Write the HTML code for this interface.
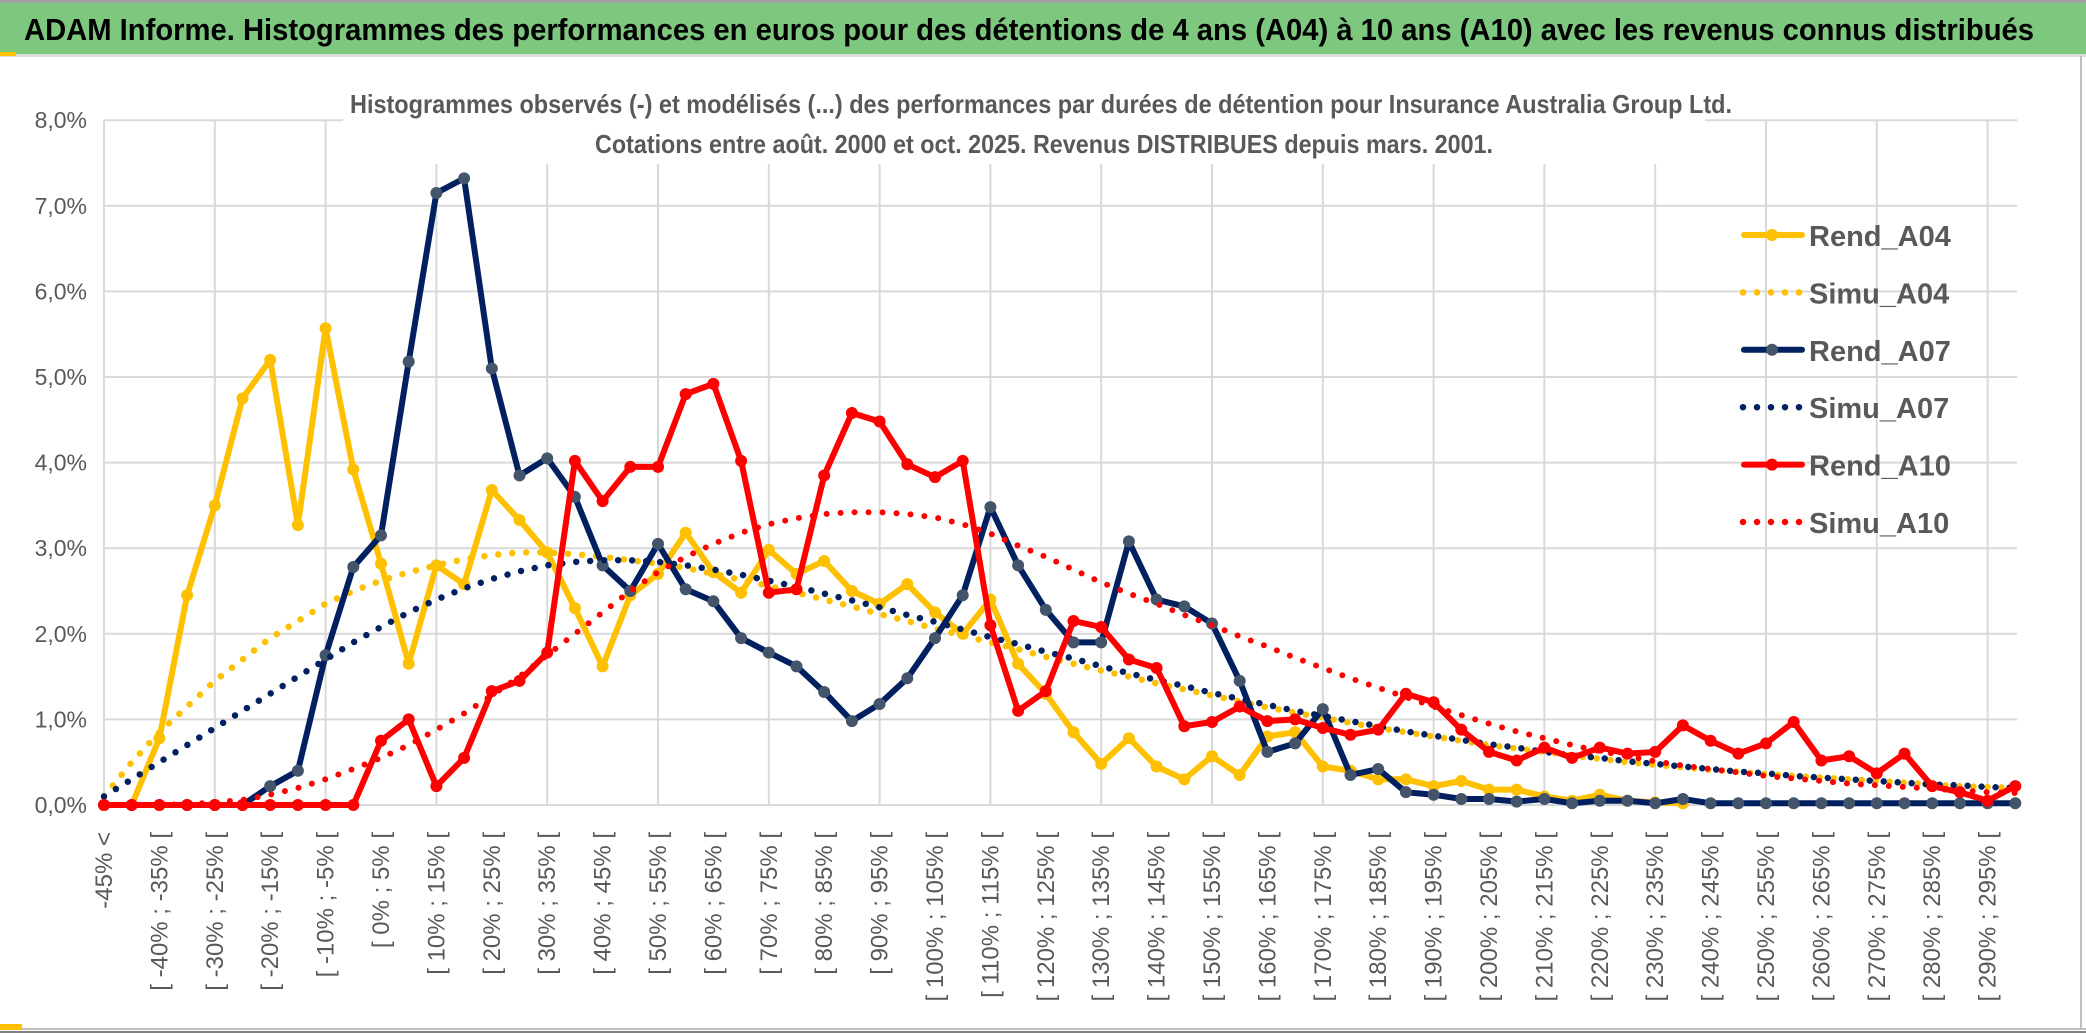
<!DOCTYPE html>
<html><head><meta charset="utf-8"><style>
html,body{margin:0;padding:0;background:#fff;}
svg{display:block;font-family:"Liberation Sans",sans-serif;}
</style></head><body>
<svg id="chart" width="2086" height="1033" viewBox="0 0 2086 1033">
<rect x="0" y="0" width="2086" height="1033" fill="#fff"/>
<rect x="0" y="2" width="2086" height="52" fill="#7dc77f"/>
<rect x="0" y="0" width="2086" height="3" fill="#a0a0a0"/>
<rect x="0" y="54" width="2086" height="3" fill="#dcdcdc"/>
<rect x="0" y="52" width="16" height="4" fill="#ffc000"/>
<text x="24" y="40" font-size="31" font-weight="bold" fill="#000" textLength="2010" lengthAdjust="spacingAndGlyphs">ADAM Informe. Histogrammes des performances en euros pour des détentions de 4 ans (A04) à 10 ans (A10) avec les revenus connus distribués</text>
<line x1="2081" y1="56" x2="2081" y2="1030" stroke="#bfbfbf" stroke-width="2"/>
<line x1="0" y1="1029" x2="2086" y2="1029" stroke="#bfbfbf" stroke-width="2"/>
<line x1="0" y1="1032" x2="2086" y2="1032" stroke="#808080" stroke-width="2"/>
<rect x="0" y="1024" width="22" height="6" fill="#ffc000"/>
<g id="grid"></g>
<rect x="343" y="84" width="1362" height="80" fill="#fff"/>
<text x="1041" y="113" font-size="26" font-weight="bold" fill="#595959" text-anchor="middle" textLength="1382" lengthAdjust="spacingAndGlyphs">Histogrammes observés (-) et modélisés (...) des performances par durées de détention pour Insurance Australia Group Ltd.</text>
<text x="1044" y="153" font-size="26" font-weight="bold" fill="#595959" text-anchor="middle" textLength="898" lengthAdjust="spacingAndGlyphs">Cotations entre août. 2000 et oct. 2025. Revenus DISTRIBUES depuis mars. 2001.</text>
<g id="yaxis"></g>
<g id="xaxis"></g>
<g id="series"></g>
<g id="legend"></g>
</svg>
<script>
const categories = (function(){ const c=["-45% <"]; for(let v=-45; v<300; v+=5){ c.push("[ "+v+"% ; "+(v+5)+"% ["); } return c; })();
const yTicks = [0,1,2,3,4,5,6,7,8];
const yTickLabels = ["0,0%","1,0%","2,0%","3,0%","4,0%","5,0%","6,0%","7,0%","8,0%"];
const rendA04 = [0,0,0.78,2.45,3.5,4.75,5.2,3.27,5.57,3.92,2.82,1.65,2.8,2.58,3.68,3.33,2.95,2.3,1.62,2.45,2.7,3.18,2.72,2.48,2.98,2.7,2.85,2.5,2.35,2.58,2.25,2.0,2.4,1.65,1.3,0.85,0.48,0.78,0.45,0.3,0.57,0.35,0.8,0.85,0.45,0.4,0.3,0.3,0.22,0.28,0.18,0.18,0.1,0.05,0.12,0.05,0.03,0.02,null,null,null,null,null,null,null,null,null,null,null,null];
const simuA04 = [0.1,0.5,0.85,1.15,1.45,1.7,1.95,2.15,2.35,2.5,2.62,2.72,2.8,2.87,2.92,2.95,2.95,2.93,2.9,2.86,2.82,2.77,2.7,2.63,2.56,2.48,2.4,2.32,2.23,2.15,2.06,1.98,1.9,1.82,1.73,1.65,1.57,1.5,1.42,1.35,1.28,1.21,1.14,1.08,1.02,0.96,0.9,0.85,0.8,0.75,0.7,0.66,0.62,0.58,0.54,0.5,0.47,0.44,0.41,0.39,0.36,0.34,0.32,0.3,0.28,0.26,0.24,0.22,0.21,0.2];
const rendA07 = [0,0,0,0,0,0,0.22,0.4,1.75,2.78,3.15,5.18,7.15,7.32,5.1,3.85,4.05,3.6,2.8,2.5,3.05,2.52,2.38,1.95,1.78,1.62,1.32,0.98,1.18,1.48,1.95,2.45,3.48,2.8,2.28,1.9,1.9,3.08,2.4,2.32,2.12,1.45,0.62,0.72,1.12,0.35,0.42,0.15,0.12,0.07,0.07,0.04,0.07,0.02,0.05,0.05,0.02,0.07,0.02,0.02,0.02,0.02,0.02,0.02,0.02,0.02,0.02,0.02,0.02,0.02];
const simuA07 = [0.1,0.3,0.5,0.7,0.9,1.1,1.3,1.5,1.7,1.9,2.08,2.25,2.4,2.53,2.64,2.73,2.8,2.84,2.86,2.86,2.84,2.8,2.75,2.69,2.62,2.55,2.47,2.39,2.31,2.22,2.14,2.05,1.96,1.88,1.79,1.71,1.62,1.54,1.46,1.39,1.31,1.24,1.17,1.1,1.04,0.98,0.92,0.86,0.81,0.76,0.71,0.67,0.62,0.58,0.55,0.51,0.48,0.45,0.42,0.39,0.37,0.34,0.32,0.3,0.28,0.26,0.24,0.23,0.21,0.2];
const rendA10 = [0,0,0,0,0,0,0,0,0,0,0.75,1.0,0.22,0.55,1.33,1.45,1.78,4.02,3.55,3.95,3.95,4.8,4.92,4.02,2.48,2.52,3.85,4.58,4.48,3.98,3.83,4.02,2.1,1.1,1.33,2.15,2.08,1.7,1.6,0.92,0.97,1.15,0.98,1.0,0.9,0.82,0.88,1.3,1.2,0.88,0.62,0.52,0.67,0.55,0.67,0.6,0.62,0.93,0.75,0.6,0.72,0.97,0.52,0.57,0.37,0.6,0.22,0.15,0.05,0.22];
const simuA10 = [0,0,0,0.01,0.03,0.06,0.12,0.2,0.3,0.42,0.55,0.7,0.88,1.07,1.28,1.5,1.75,2.0,2.25,2.5,2.72,2.9,3.05,3.18,3.28,3.35,3.4,3.42,3.42,3.4,3.36,3.28,3.17,3.03,2.9,2.75,2.6,2.47,2.35,2.22,2.1,1.97,1.85,1.72,1.6,1.48,1.37,1.26,1.15,1.05,0.95,0.86,0.78,0.7,0.63,0.57,0.51,0.46,0.42,0.38,0.34,0.31,0.28,0.25,0.23,0.21,0.19,0.17,0.15,0.14];
const seriesNames = ["Rend_A04","Simu_A04","Rend_A07","Simu_A07","Rend_A10","Simu_A10"];

const NS="http://www.w3.org/2000/svg";
const X0=104, STEP=27.7, Y0=805, YPX=85.6;
function xPos(i){ return X0+i*STEP; }
function yPos(v){ return Y0-v*YPX; }
function mk(tag, attrs, parent){ const e=document.createElementNS(NS,tag); for(const k in attrs) e.setAttribute(k,attrs[k]); parent.appendChild(e); return e; }

const grid=document.getElementById('grid');
yTicks.forEach(function(t){
  const l=mk('line',{x1:X0,x2:xPos(categories.length-1)+2,y1:yPos(t),y2:yPos(t),stroke:'#d9d9d9','stroke-width':2},grid);
  
  
});
for(let i=0;i<categories.length;i+=4){
  const l=mk('line',{x1:xPos(i),x2:xPos(i),y1:yPos(8),y2:Y0,stroke:'#d9d9d9','stroke-width':2},grid);
  
  
}
const yaxis=document.getElementById('yaxis');
yTicks.forEach(function(t,k){
  const tx=mk('text',{x:87,y:yPos(t)+8,'font-size':23,fill:'#595959','text-anchor':'end'},yaxis);
  tx.textContent=yTickLabels[k];
  
  
});
const xaxis=document.getElementById('xaxis');
categories.forEach(function(c,i){
  if(i%2) return;
  const x=xPos(i)+8;
  const tx=mk('text',{x:0,y:0,'font-size':24,fill:'#595959','text-anchor':'end',transform:'translate('+x+',832) rotate(-90)'},xaxis);
  tx.textContent=c;
  
  
});

const S=document.getElementById('series');
function pathOf(arr){ let d='',pen=false; arr.forEach(function(v,i){ if(v===null){pen=false;return;} d+=(pen?'L':'M')+xPos(i).toFixed(1)+' '+yPos(v).toFixed(1)+' '; pen=true; }); return d; }
function solid(arr,color,mcolor,name){
  const p=mk('path',{d:pathOf(arr),fill:'none',stroke:color,'stroke-width':6,'stroke-linejoin':'round','stroke-linecap':'round'},S);
  
  
  arr.forEach(function(v,i){ if(v===null) return;
    const c=mk('circle',{cx:xPos(i),cy:yPos(v),r:6,fill:mcolor},S);
    
    
  });
}
function dotted(arr,color,name,w){
  const p=mk('path',{d:pathOf(arr),fill:'none',stroke:color,'stroke-width':w,'stroke-dasharray':'0 14','stroke-linecap':'round'},S);
  
  
}
solid(rendA04,'#ffc000','#ffc000','rend-a04');
dotted(simuA04,'#ffc000','simu-a04',6.5);
solid(rendA07,'#002060','#44546a','rend-a07');
dotted(simuA07,'#002060','simu-a07',6.5);
solid(rendA10,'#ff0000','#ff0000','rend-a10');
dotted(simuA10,'#ff0000','simu-a10',6);

const L=document.getElementById('legend');
const legColors=['#ffc000','#ffc000','#002060','#002060','#ff0000','#ff0000'];
const legMarker=['#ffc000',null,'#44546a',null,'#ff0000',null];
seriesNames.forEach(function(n,k){
  const y=235+k*57.4;
  const g=mk('g',{},L);
  
  
  if(legMarker[k]){
    mk('line',{x1:1744,x2:1802,y1:y,y2:y,stroke:legColors[k],'stroke-width':6,'stroke-linecap':'round'},g);
    mk('circle',{cx:1772,cy:y,r:6,fill:legMarker[k]},g);
  } else {
    mk('line',{x1:1743,x2:1802,y1:y,y2:y,stroke:legColors[k],'stroke-width':6.5,'stroke-dasharray':'0 14','stroke-linecap':'round'},g);
  }
  const t=mk('text',{x:1809,y:y+11,'font-size':29,'font-weight':'bold',fill:'#595959'},g);
  t.textContent=n;
});
</script>
</body></html>
